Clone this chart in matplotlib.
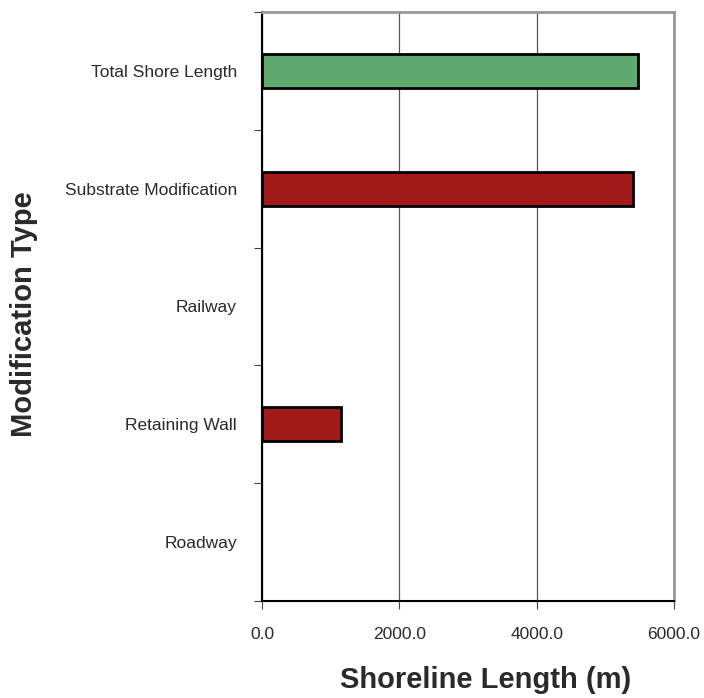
import numpy as np
import matplotlib.pyplot as plt

categories = ["Roadway", "Retaining Wall", "Railway", "Substrate Modification", "Total Shore Length"]
lengths = [0.0, 1150.0, 0.0, 5410.0, 5475.0]
colors = ["#A0191B", "#A0191B", "#A0191B", "#A0191B", "#5FA86E"]

fig = plt.figure(figsize=(7.04, 6.98), dpi=100)
ax = fig.add_axes([262 / 704, 1 - 601 / 698, 412 / 704, 589 / 698])

y = np.arange(len(categories))
for yi, val, c in zip(y, lengths, colors):
    if val > 0:
        ax.barh(yi, val, height=0.29, color=c, edgecolor="black", linewidth=2, zorder=3)

ax.set_xlim(0, 6000)
ax.set_ylim(-0.5, len(categories) - 0.5)
ax.set_xticks([0, 2000, 4000, 6000])
ax.set_xticklabels(["%.1f" % v for v in [0, 2000, 4000, 6000]], fontsize=12.5,
                   family="Liberation Sans", color="#2a2a2a")
ax.xaxis.grid(True, color="#555555", linewidth=0.9, zorder=0)

# category labels sit between the boundary ticks
ax.set_yticks(np.arange(len(categories) + 1) - 0.5)
ax.set_yticklabels([])
ax.set_yticks(y, minor=True)
ax.set_yticklabels(categories, minor=True, fontsize=12.5, family="Liberation Sans", color="#2a2a2a")
ax.tick_params(axis="y", which="minor", length=0, pad=18)
ax.tick_params(axis="y", which="major", length=6, direction="out", color="#444444")
ax.tick_params(axis="x", length=6, direction="out", color="#444444", pad=13)

for s in ["top", "right"]:
    ax.spines[s].set_color("#999999")
    ax.spines[s].set_linewidth(2)
for s in ["left", "bottom"]:
    ax.spines[s].set_color("black")
    ax.spines[s].set_linewidth(1.5)

fig.text(486 / 704, 1 - 680 / 698, "Shoreline Length (m)", fontsize=21, fontweight="bold",
         family="Liberation Sans", color="#2a2a2a", ha="center", va="center")
fig.text(24 / 704, 1 - 314 / 698, "Modification Type", fontsize=21, fontweight="bold",
         family="Liberation Sans", color="#2a2a2a", ha="center", va="center", rotation=90)

fig.savefig("out.png", dpi=100)
